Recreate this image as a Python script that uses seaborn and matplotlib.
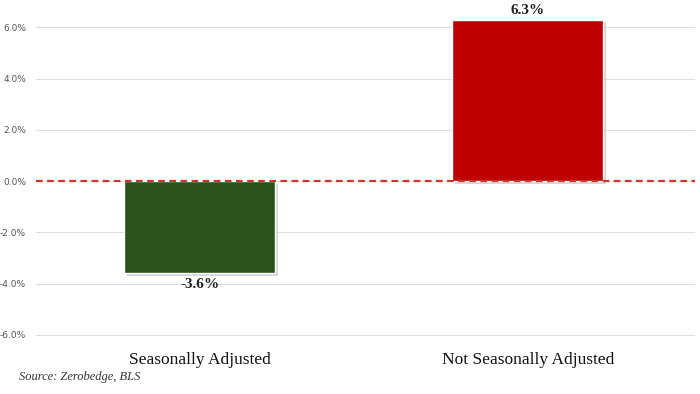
import matplotlib
matplotlib.use("Agg")
import matplotlib.pyplot as plt
import matplotlib.patheffects as pe
from matplotlib.ticker import FuncFormatter
import seaborn as sns
import pandas as pd

# Datos del gráfico
categorias = ["Seasonally Adjusted", "Not Seasonally Adjusted"]
valores = [-3.6, 6.3]
colores = ["#2b531b", "#c00000"]
ticks_y = [-6, -4, -2, 0, 2, 4, 6]
fuente = "Source: Zerobedge, BLS"

df = pd.DataFrame({"categoria": categorias, "valor": valores})

sns.set_style("white")
plt.rcParams["font.family"] = ["Liberation Serif", "DejaVu Serif"]
plt.rcParams["axes.unicode_minus"] = False

fig = plt.figure(figsize=(7, 3.94), dpi=100)
ax = fig.add_axes([0.051, 0.1244, 0.942, 0.8756])

sns.barplot(data=df, x="categoria", y="valor", hue="categoria",
            palette=colores, saturation=1, width=0.46, legend=False,
            ax=ax, zorder=3)

# Sombra de las barras
for p in ax.patches:
    p.set_path_effects([pe.SimplePatchShadow(offset=(2, -2), shadow_rgbFace="#bbbbbb", alpha=0.6),
                        pe.Normal()])

# Etiquetas de valor
for p, v in zip(ax.patches, valores):
    x = p.get_x() + p.get_width() / 2
    if v >= 0:
        ax.text(x, v + 0.1, f"{v:.1f}%", ha="center", va="bottom",
                fontsize=11, fontweight="bold", color="#222222")
    else:
        ax.text(x, v - 0.2, f"{v:.1f}%", ha="center", va="top",
                fontsize=11, fontweight="bold", color="#222222")

# Línea de cero discontinua
ax.axhline(0, color="#c8372d", linestyle=(0, (3, 2)), linewidth=1.6, zorder=4)

ax.set_xlim(-0.5, 1.51)
ax.set_ylim(-6.4, 7.07)
ax.set_yticks(ticks_y)
ax.yaxis.set_major_formatter(FuncFormatter(lambda v, _: f"{v:.1f}%"))
ax.grid(axis="y", color="#dddddd", linewidth=0.8, zorder=0)
ax.grid(axis="x", visible=False)
for s in ax.spines.values():
    s.set_visible(False)

ax.tick_params(axis="y", length=0, pad=7, labelsize=6.5, labelcolor="#555555")
for lbl in ax.get_yticklabels():
    lbl.set_family(["DejaVu Sans"])
ax.tick_params(axis="x", length=0, pad=5, labelsize=12.5, labelcolor="#111111")
ax.set_xlabel("")
ax.set_ylabel("")

fig.text(0.027, 0.043, fuente, fontsize=9, style="italic", color="#333333",
         ha="left", va="center")

fig.savefig("out.png", dpi=100)
